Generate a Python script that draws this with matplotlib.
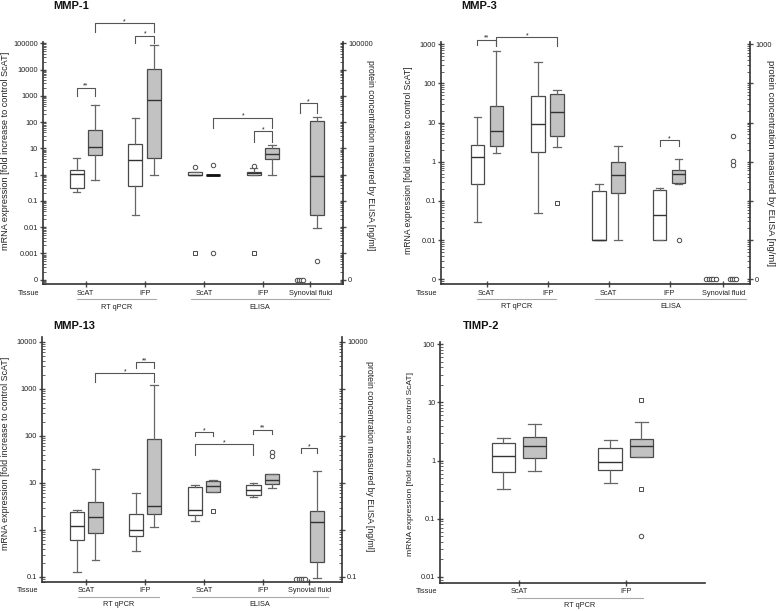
import numpy as np
import matplotlib
matplotlib.use('Agg')
import matplotlib.pyplot as plt
from matplotlib.ticker import FixedLocator, FixedFormatter, LogLocator, NullFormatter

plt.rcParams['font.family'] = ['Liberation Sans', 'DejaVu Sans']

EDGE = '#4a4a4a'
WHISK = '#666666'
GRAY = '#c2c2c2'
TXT = '#222222'

# ---------------------------------------------------------------------------
# Data: box stats as (whisker low, Q1, median, Q3, whisker high)
# order: RT qPCR ScAT (ctrl, OA), IFP (ctrl, OA), ELISA ScAT, IFP, synovial fluid
# None = group shown only as single points; 0 means "not detected"
# ---------------------------------------------------------------------------
mmp1_boxes = [
    (0.21, 0.31, 1.06, 1.47, 4.2),
    (0.63, 5.8, 11, 52, 447),
    (0.03, 0.37, 3.6, 14, 138),
    (0.98, 4.1, 710, 10300, 85000),
    (0.97, 0.97, 1.0, 1.23, 1.23),
    (1.0, 1.0, 1.0, 1.0, 1.0),
    (0.97, 0.97, 1.1, 1.26, 1.75),
    (1.0, 3.8, 6.0, 10.2, 13),
    None,
    (0.0096, 0.029, 0.91, 105, 162),
]
mmp1_circles = {4: [1.9], 5: [2.35, 0.001], 6: [2.2], 8: [0, 0, 0, 0], 9: [0.0005]}
mmp1_squares = {4: [0.001], 6: [0.001]}
mmp1_sig = [(0, 1, 977, 2040, '**'), (1, 3, 275000, 589000, '*'), (2, 3, 100000, 195000, '*'),
            (5, 7, 61.7, 148, '*'), (6, 7, 17.4, 45.7, '*'), (8, 9, 219, 525, '*')]

mmp3_boxes = [
    (0.029, 0.275, 1.31, 2.66, 13.5),
    (1.7, 2.56, 6.07, 26.4, 680),
    (0.049, 1.8, 9.0, 48, 350),
    (2.4, 4.6, 18.6, 53, 67),
    (0.01, 0.01, 0.01, 0.175, 0.27),
    (0.01, 0.155, 0.457, 1.0, 2.6),
    (0.01, 0.01, 0.043, 0.186, 0.22),
    (0.27, 0.28, 0.5, 0.625, 1.19),
    None,
    None,
]
mmp3_circles = {7: [0.01], 8: [0, 0, 0, 0, 0], 9: [0, 0, 0, 0, 4.6, 1.06, 0.84]}
mmp3_squares = {3: [0.09]}
mmp3_sig = [(0, 1, 955, 1320, '**'), (1, 3, 891, 1510, '*'), (6, 7, 2.5, 3.55, '*')]

mmp13_boxes = [
    (0.13, 0.6, 1.2, 2.4, 2.7),
    (0.234, 0.85, 1.86, 3.9, 20.2),
    (0.357, 0.745, 1.0, 2.15, 6.0),
    (1.18, 2.15, 3.24, 85, 1217),
    (1.55, 2.09, 2.7, 8.1, 9.2),
    (6.5, 6.5, 8.4, 11.2, 11.4),
    (4.9, 5.55, 7.1, 9.1, 9.8),
    (7.8, 9.7, 11.4, 15.5, 15.8),
    None,
    (0.095, 0.21, 1.5, 2.58, 18),
]
mmp13_circles = {7: [45, 37], 8: [0, 0, 0, 0, 0]}
mmp13_squares = {5: [2.5]}
mmp13_sig = [(2, 3, 2820, 3720, '**'), (1, 3, 1380, 2140, '*'), (4, 5, 97.7, 120, '*'),
             (4, 6, 39.8, 66, '*'), (6, 7, 110, 135, '**'), (8, 9, 42.7, 55, '*')]

timp2_boxes = [
    (0.33, 0.64, 1.22, 2.0, 2.49),
    (0.655, 1.11, 1.79, 2.59, 4.2),
    (0.41, 0.7, 0.95, 1.63, 2.24),
    (1.15, 1.16, 1.79, 2.36, 4.7),
]
timp2_circles = {3: [0.05]}
timp2_squares = {3: [11.2, 0.33]}
timp2_sig = []

mmp_tissues = ['ScAT', 'IFP', 'ScAT', 'IFP', 'Synovial fluid']
timp_tissues = ['ScAT', 'IFP']
methods = ['RT qPCR', 'ELISA']

mmp1_ticks = ['0', '0.001', '0.01', '0.1', '1', '10', '100', '1000', '10000', '100000']
mmp3_ticks = ['0', '0.01', '0.1', '1', '10', '100', '1000']
mmp13_ticks = ['0.1', '1', '10', '100', '1000', '10000']
timp2_ticks = ['0.01', '0.1', '1', '10', '100']

left_text = 'mRNA expression [fold increase to control ScAT]'
right_text = 'protein concentration measured by ELISA [ng/ml]'


def draw_panel(rect, title, title_xy, boxes, circles, squares, sig, pos, width,
               low_exp, tick_labels, zero, ylim, xlim, tissues, cat_pos, spans,
               left_lab, right_lab=None):
    ax = fig.add_axes(rect)
    ax.set_yscale('log')

    # boxes
    stats, spos, cols = [], [], []
    for i, b in enumerate(boxes):
        if b is None:
            continue
        lo, q1, med, q3, hi = b
        stats.append(dict(whislo=lo, q1=q1, med=med, q3=q3, whishi=hi, fliers=[]))
        spos.append(pos[i])
        cols.append('white' if i % 2 == 0 else GRAY)
    bp = ax.bxp(stats, positions=spos, widths=width, patch_artist=True, showfliers=False,
                manage_ticks=False, capwidths=width * 0.55,
                boxprops=dict(edgecolor=EDGE, linewidth=0.9),
                whiskerprops=dict(color=WHISK, linewidth=0.9),
                capprops=dict(color=WHISK, linewidth=0.9),
                medianprops=dict(color='#333333', linewidth=1.0))
    for patch, c, st, line in zip(bp['boxes'], cols, stats, bp['medians']):
        patch.set_facecolor(c)
        # a collapsed box shows up as one heavy line
        if st['q1'] == st['q3']:
            line.set_linewidth(2.0)
            line.set_color('#111111')

    # single points (zeros are spread side by side at the "0" line)
    for marks, m, ms in ((circles, 'o', 3.2), (squares, 's', 3.0)):
        for i, vals in marks.items():
            n0 = sum(1 for v in vals if v == 0)
            k = 0
            for v in vals:
                if v == 0:
                    x = pos[i] + (k - (n0 - 1) / 2) * 0.038
                    y = zero
                    k += 1
                else:
                    x, y = pos[i], v
                ax.plot(x, y, marker=m, ms=ms, mfc='white', mec=EDGE, mew=0.7,
                        ls='none', clip_on=False, zorder=4)

    # significance brackets
    for i, j, ylo, yhi, star in sig:
        ax.plot([pos[i], pos[i], pos[j], pos[j]], [ylo, yhi, yhi, ylo],
                color='#555555', lw=0.8, clip_on=False)
        ax.text((pos[i] + pos[j]) / 2, yhi, star, ha='center', va='baseline',
                fontsize=5, color=TXT)

    ax.set_xlim(xlim)
    ax.set_ylim(ylim)
    ticks = [10.0 ** (low_exp + k) for k in range(len(tick_labels))]
    ax.yaxis.set_major_locator(FixedLocator(ticks))
    ax.yaxis.set_major_formatter(FixedFormatter(tick_labels))
    ax.yaxis.set_minor_locator(LogLocator(base=10, subs=np.arange(2, 10), numticks=40))
    ax.yaxis.set_minor_formatter(NullFormatter())
    ax.tick_params(axis='y', which='major', direction='inout', length=4, width=1,
                   labelsize=5.3, pad=1.5, color=EDGE, labelcolor=TXT)
    ax.tick_params(axis='y', which='minor', direction='in', length=2, width=0.6, color=EDGE)
    ax.set_xticks(cat_pos)
    ax.tick_params(axis='x', labelbottom=False, direction='inout', length=4, width=1, color=EDGE)
    ax.spines['top'].set_visible(False)
    for s in ('left', 'bottom', 'right'):
        ax.spines[s].set_color('#333333')
        ax.spines[s].set_linewidth(1.2)

    # tissue / method labels under the axis
    tr = ax.get_xaxis_transform()
    ax.text(-0.01, -0.038, 'Tissue', transform=ax.transAxes, ha='right', va='center',
            fontsize=5.3, color=TXT)
    for name, x in zip(tissues, cat_pos):
        ax.text(x, -0.038, name, transform=tr, ha='center', va='center', fontsize=5.3, color=TXT)
    for name, (x0, x1) in zip(methods, spans):
        ax.plot([x0, x1], [-0.062, -0.062], transform=tr, color='#aaaaaa', lw=0.8, clip_on=False)
        ax.text((x0 + x1) / 2, -0.094, name, transform=tr, ha='center', va='center',
                fontsize=5.3, color=TXT)

    lx, ly, lfs = left_lab
    ax.text(lx, ly, left_text, transform=ax.transAxes, rotation=90, ha='center',
            va='center', fontsize=lfs, color=TXT)

    if right_lab is not None:
        ax.spines['right'].set_visible(False)
        ax2 = ax.twinx()
        ax2.set_yscale('log')
        ax2.set_ylim(ylim)
        rlabels = [''] * len(tick_labels)
        rlabels[0] = tick_labels[0]
        rlabels[-1] = tick_labels[-1]
        ax2.yaxis.set_major_locator(FixedLocator(ticks))
        ax2.yaxis.set_major_formatter(FixedFormatter(rlabels))
        ax2.yaxis.set_minor_locator(LogLocator(base=10, subs=np.arange(2, 10), numticks=40))
        ax2.yaxis.set_minor_formatter(NullFormatter())
        ax2.tick_params(axis='y', which='major', direction='inout', length=4, width=1,
                        labelsize=5.3, pad=1.5, color=EDGE, labelcolor=TXT)
        ax2.tick_params(axis='y', which='minor', direction='in', length=2, width=0.6, color=EDGE)
        for s in ('top', 'left', 'bottom'):
            ax2.spines[s].set_visible(False)
        ax2.spines['right'].set_color('#333333')
        ax2.spines['right'].set_linewidth(1.2)
        rx, ry, rfs = right_lab
        ax.text(rx, ry, right_text, transform=ax.transAxes, rotation=270, ha='center',
                va='center', fontsize=rfs, color=TXT)
    else:
        ax.spines['right'].set_visible(False)

    fig.text(title_xy[0], title_xy[1], title, fontsize=8, fontweight='bold',
             ha='left', va='center', color='#111111')
    return ax


fig = plt.figure(figsize=(7.78, 6.11), dpi=100)

mmp_pos = [0.845, 1.16, 1.84, 2.155, 2.84, 3.155, 3.835, 4.15]

draw_panel([0.0549, 0.5347, 0.3864, 0.3966], 'MMP-1', (0.068, 0.990),
           mmp1_boxes, mmp1_circles, mmp1_squares, mmp1_sig,
           mmp_pos + [4.62, 4.9], 0.236, -4, mmp1_ticks, 1e-4,
           (10 ** -4.18, 10 ** 5.05), (0.274, 5.35), mmp_tissues,
           [1, 2, 3, 4, 4.79], [(0.85, 2.19), (2.77, 5.1)],
           (-0.124, 0.55, 6.6), (1.089, 0.534, 6.3))

draw_panel([0.5665, 0.5352, 0.3976, 0.3966], 'MMP-3', (0.593, 0.990),
           mmp3_boxes, mmp3_circles, mmp3_squares, mmp3_sig,
           mmp_pos + [4.68, 5.04], 0.22, -3, mmp3_ticks, 1e-3,
           (10 ** -3.12, 10 ** 3.066), (0.246, 5.32), mmp_tissues,
           [1, 2, 3, 4, 4.88], [(0.846, 2.13), (2.78, 5.25)],
           (-0.105, 0.512, 6.2), (1.065, 0.5, 6.8))

draw_panel([0.0536, 0.048, 0.3864, 0.401], 'MMP-13', (0.068, 0.467),
           mmp13_boxes, mmp13_circles, mmp13_squares, mmp13_sig,
           mmp_pos + [4.64, 4.91], 0.24, -1, mmp13_ticks, 10 ** -1.04,
           (10 ** -1.1, 10 ** 4.11), (0.25, 5.34), mmp_tissues,
           [1, 2, 3, 4, 4.78], [(0.87, 2.23), (2.79, 5.1)],
           (-0.119, 0.524, 6.4), (1.092, 0.514, 6.3))

draw_panel([0.5656, 0.0463, 0.3406, 0.3944], 'TIMP-2', (0.595, 0.4665),
           timp2_boxes, timp2_circles, timp2_squares, timp2_sig,
           [0.854, 1.146, 1.852, 2.145], 0.22, -2, timp2_ticks, 0.01,
           (10 ** -2.1, 10 ** 2.045), (0.262, 2.74), timp_tissues,
           [1, 2], [(0.98, 2.16)],
           (-0.112, 0.492, 6.1))

fig.savefig('out.png', dpi=100)
